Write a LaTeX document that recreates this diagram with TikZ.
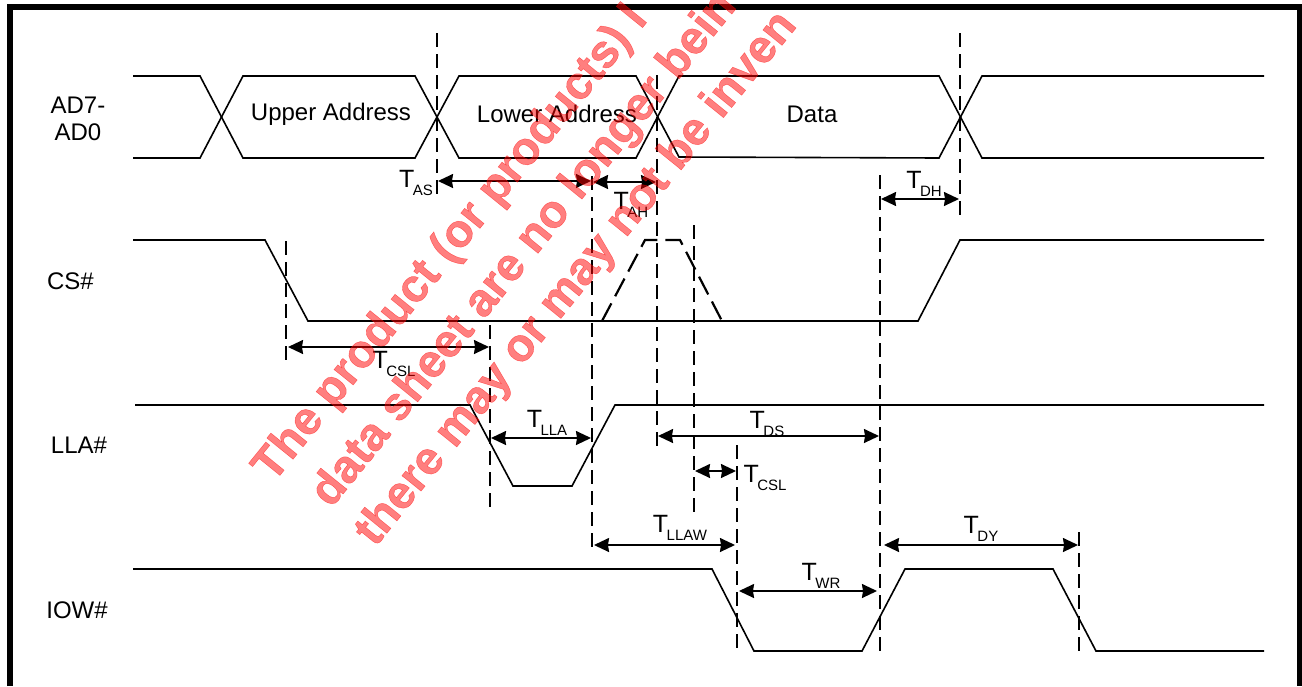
\documentclass[tikz,border=0pt]{standalone}
\usepackage{fontspec}
\setmainfont{Liberation Sans}
\newfontfamily\stampfont[FakeBold=0.9]{Liberation Sans Bold}
\usetikzlibrary{arrows.meta}
\def\timing#1{{\fontsize{25}{27}\selectfont T}\kern-1.5pt\raisebox{-8pt}{\fontsize{15}{16}\selectfont #1}}
\tikzset{
	wave/.style={line width=1.6pt, line join=miter},
	guide/.style={line width=1.5pt, dash pattern=on 14pt off 7pt},
	span/.style={line width=1.6pt, {Stealth[length=15pt,width=14pt,inset=1pt]}-{Stealth[length=15pt,width=14pt,inset=1pt]}},
	lbl/.style={font=\fontsize{24}{27}\selectfont, inner sep=0pt, align=center},
	stamp/.style={font=\fontsize{46.5}{50}\stampfont, inner sep=0pt, text=red, text opacity=0.5, rotate=51, anchor=base west}
}

\begin{document}
\begin{tikzpicture}[x=1pt, y=-1pt]
		%%%%% START %%%%%
		\useasboundingbox (0, 0) rectangle (1302, 686);
		
		\draw[line width=6pt] (10, 686) -- (10, 7) -- (1299.5, 7) -- (1299.5, 686);
		
		% address / data bus
		\draw[wave] (133, 76) -- (200, 76) -- (243, 158) -- (415, 158) -- (459, 76) -- (636, 76) -- (679, 157) -- (939, 158) -- (982, 76) -- (1264, 76);
		\draw[wave] (133, 158) -- (200, 158) -- (243, 76) -- (415, 76) -- (459, 158) -- (636, 158) -- (679, 76) -- (939, 76) -- (982, 158) -- (1264, 158);
		
		% CS#
		\draw[wave] (133, 240) -- (265, 240) -- (308, 321) -- (918, 321) -- (960, 240) -- (1264, 240);
		\draw[line width=2.2pt, dash pattern=on 20pt off 8pt] (602, 321) -- (645, 240) -- (680, 240) -- (722, 321);
		
		% LLA#
		\draw[wave] (135, 405) -- (470, 405) -- (513, 486) -- (572, 486) -- (615, 405) -- (1264, 405);
		
		% IOW#
		\draw[wave] (133, 569) -- (712, 569) -- (754, 651) -- (862, 651) -- (905, 569) -- (1053, 569) -- (1096, 651) -- (1264, 651);
		
		% guides
		\draw[guide] (437, 33) -- (437, 198);
		\draw[guide] (657, 75) -- (657, 451);
		\draw[guide] (592, 176) -- (592, 553);
		\draw[guide] (960, 33) -- (960, 219);
		\draw[guide] (880, 175) -- (880, 656);
		\draw[guide] (286, 241) -- (286, 362);
		\draw[guide] (490, 325) -- (490, 510);
		\draw[guide] (694, 225) -- (694, 517);
		\draw[guide] (737, 445) -- (737, 652);
		\draw[guide] (1079, 532) -- (1079, 652);
		
		% spans
		\draw[span] (438, 181) -- (591, 181);
		\draw[span] (593, 182) -- (656, 182);
		\draw[span] (881, 199) -- (959, 199);
		\draw[span] (288, 347) -- (489, 347);
		\draw[span] (491, 438) -- (591, 438);
		\draw[span] (658, 436) -- (879, 436);
		\draw[span] (695, 471) -- (736, 471);
		\draw[span] (594, 545) -- (735, 545);
		\draw[span] (739, 591) -- (877, 591);
		\draw[span] (884, 545) -- (1078, 545);
		
		\node[lbl] (ad) at (78, 119) {AD7-\\AD0};
		\node[lbl] (cs) at (70.5, 281) {CS\#};
		\node[lbl] (lla) at (79, 445) {LLA\#};
		\node[lbl] (iow) at (77, 610) {IOW\#};
		
		\node[lbl] (upper) at (331, 114) {Upper Address};
		\node[lbl] (lower) at (557, 114) {Lower Address};
		\node[lbl] (data) at (812, 114) {Data};
		
		\node[lbl] (tas) at (416, 183) {\timing{AS}};
		\node[lbl] (tah) at (631, 205) {\timing{AH}};
		\node[lbl] (tdh) at (924, 184) {\timing{DH}};
		\node[lbl] (tcsl) at (394, 364) {\timing{CSL}};
		\node[lbl] (tlla) at (547, 423) {\timing{LLA}};
		\node[lbl] (tds) at (767, 424) {\timing{DS}};
		\node[lbl] (tcslb) at (765, 478) {\timing{CSL}};
		\node[lbl] (tllaw) at (680, 528) {\timing{LLAW}};
		\node[lbl] (twr) at (821, 576) {\timing{WR}};
		\node[lbl] (tdy) at (981, 529) {\timing{DY}};
		
		\begin{scope}
			\clip (0, 0) rectangle (1302, 686);
			\node[stamp] (stampa) at (273, 484) {The product (or products) l};
			\node[stamp] (stampb) at (331, 509) {data sheet are no longer bein};
			\node[stamp] (stampc) at (375, 548) {there may or may not be inven};
		\end{scope}
		%%%%% END %%%%%
	\end{tikzpicture}
\end{document}
